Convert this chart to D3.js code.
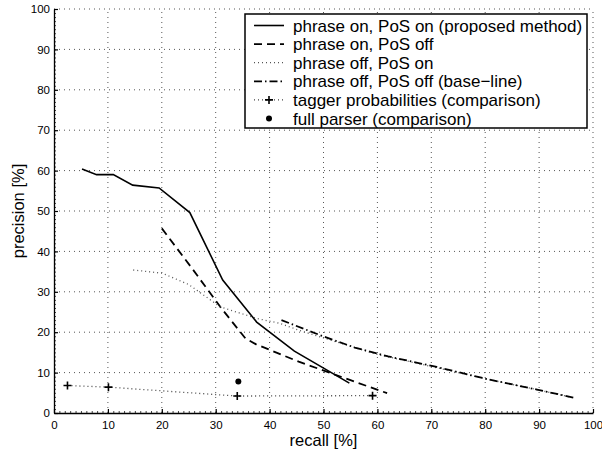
<!DOCTYPE html>
<html><head><meta charset="utf-8">
<script src="https://cdn.jsdelivr.net/npm/d3@7"></script>
<style>body{margin:0;background:#fff}svg{display:block}text{font-family:"Liberation Sans",Arial,sans-serif}</style>
</head><body>
<svg id="c" width="602" height="452"></svg>
<script>
// ---- data ----
const onOnRecall = [5.2, 7.9, 11.0, 14.6, 19.5, 25.2, 31.3, 37.6, 44.6, 54.8];
const onOnPrec   = [60.4, 59.0, 59.0, 56.4, 55.7, 49.6, 32.9, 22.5, 15.3, 7.4];
const onOffRecall = [20.0, 25.5, 31.0, 35.5, 37.5, 45.4, 61.8];
const onOffPrec   = [45.7, 36.0, 26.0, 18.5, 17.0, 12.7, 4.9];
const offOnRecall = [14.7, 20.1, 25.0, 30.8, 37.6, 41.9, 45.4, 52.4, 60.0, 70.4, 80.3, 89.6, 95.5];
const offOnPrec   = [35.4, 34.6, 31.8, 26.3, 23.4, 22.2, 20.5, 17.6, 14.5, 11.4, 8.4, 5.8, 4.0];
const offOffRecall = [42.2, 49.3, 55.8, 62.0, 71.0, 80.3, 89.6, 96.4];
const offOffPrec   = [23.0, 19.3, 16.2, 14.0, 11.4, 8.4, 5.8, 3.8];
const taggerRecall = [2.5, 10.1, 34.0, 59.1];
const taggerPrec   = [6.8, 6.4, 4.2, 4.3];
const parserRecall = [34.2];
const parserPrec   = [7.8];
const xTicks = [0,10,20,30,40,50,60,70,80,90,100];
const yTicks = [0,10,20,30,40,50,60,70,80,90,100];
const legendLabels = [
  "phrase on, PoS on (proposed method)",
  "phrase on, PoS off",
  "phrase off, PoS on",
  "phrase off, PoS off (base\u2212line)",
  "tagger probabilities (comparison)",
  "full parser (comparison)"
];

// ---- chart ----
const svg = d3.select("#c");
const x = d3.scaleLinear().domain([0,100]).range([54,593]);
const y = d3.scaleLinear().domain([0,100]).range([413,9]);

// grid
const g = svg.append("g");
g.selectAll("line.gx").data(xTicks.filter(d=>d>0)).join("line")
  .attr("x1",d=>x(d)).attr("x2",d=>x(d)).attr("y1",y(0)).attr("y2",y(100))
  .attr("stroke","#555").attr("stroke-width",1).attr("stroke-dasharray","1,4");
g.selectAll("line.gy").data(yTicks.filter(d=>d>0)).join("line")
  .attr("x1",x(0)).attr("x2",x(100)).attr("y1",d=>y(d)).attr("y2",d=>y(d))
  .attr("stroke","#555").attr("stroke-width",1).attr("stroke-dasharray","1,4");

// minor ticks
const minor = d3.range(0,101,1);
svg.append("g").attr("transform",`translate(0,${y(0)})`)
  .call(d3.axisBottom(x).tickValues(minor).tickSizeInner(-2).tickSizeOuter(0).tickFormat(""))
  .call(a=>a.select(".domain").remove()).selectAll("line").attr("stroke","#444");
svg.append("g").attr("transform",`translate(${x(0)},0)`)
  .call(d3.axisLeft(y).tickValues(minor).tickSizeInner(-2).tickSizeOuter(0).tickFormat(""))
  .call(a=>a.select(".domain").remove()).selectAll("line").attr("stroke","#444");

// major axes
const xa = svg.append("g").attr("transform",`translate(0,${y(0)})`)
  .call(d3.axisBottom(x).tickValues(xTicks).tickSizeInner(-4).tickSizeOuter(0).tickPadding(8));
const ya = svg.append("g").attr("transform",`translate(${x(0)},0)`)
  .call(d3.axisLeft(y).tickValues(yTicks).tickSizeInner(-4).tickSizeOuter(0).tickPadding(4));
[xa,ya].forEach(a=>{
  a.select(".domain").attr("stroke","#000").attr("stroke-width",1.3);
  a.selectAll(".tick line").attr("stroke","#000").attr("stroke-width",1.2);
  a.selectAll(".tick text").attr("fill","#000").style("font-size","11.5px").style("font-family","'Liberation Sans',Arial,sans-serif");
});

// axis labels
svg.append("text").attr("x",(x(0)+x(100))/2).attr("y",446).attr("text-anchor","middle")
  .style("font-size","16.5px").text("recall [%]");
svg.append("text").attr("transform",`translate(24,${(y(0)+y(100))/2}) rotate(-90)`)
  .attr("text-anchor","middle").style("font-size","16.5px").text("precision [%]");

// series
const line = d3.line().x(d=>x(d[0])).y(d=>y(d[1]));
const zip = (a,b)=>a.map((v,i)=>[v,b[i]]);
const styles = [
  {data:zip(onOnRecall,onOnPrec), dash:null, w:1.6, c:"#000"},
  {data:zip(onOffRecall,onOffPrec), dash:"8,5", w:1.8, c:"#000"},
  {data:zip(offOnRecall,offOnPrec), dash:"1,3", w:1.3, c:"#555"},
  {data:zip(offOffRecall,offOffPrec), dash:"8,3,1.5,3", w:1.8, c:"#000"},
  {data:zip(taggerRecall,taggerPrec), dash:"1,3", w:1.3, c:"#444"}
];
styles.forEach(s=>{
  svg.append("path").datum(s.data).attr("d",line).attr("fill","none")
    .attr("stroke",s.c).attr("stroke-width",s.w).attr("stroke-dasharray",s.dash);
});
// plus markers
svg.selectAll("path.plus").data(zip(taggerRecall,taggerPrec)).join("path")
  .attr("transform",d=>`translate(${x(d[0])},${y(d[1])})`)
  .attr("d","M-4,0H4M0,-4V4").attr("stroke","#000").attr("stroke-width",1.6);
svg.selectAll("circle.fp").data(zip(parserRecall,parserPrec)).join("circle")
  .attr("cx",d=>x(d[0])).attr("cy",d=>y(d[1])).attr("r",3).attr("fill","#000");

// legend
const L = svg.append("g");
L.append("rect").attr("x",245).attr("y",14).attr("width",342).attr("height",114)
  .attr("fill","#fff").attr("stroke","#000").attr("stroke-width",1.5);
const rowY = i => 25.5 + i*18.6;
legendLabels.forEach((lab,i)=>{
  const yy = rowY(i);
  if (i<5) {
    const s = styles[i];
    L.append("line").attr("x1",254).attr("x2",284).attr("y1",yy).attr("y2",yy)
      .attr("stroke",s.c).attr("stroke-width",s.w).attr("stroke-dasharray",s.dash);
  }
  if (i===4) L.append("path").attr("transform",`translate(269,${yy})`).attr("d","M-4,0H4M0,-4V4")
      .attr("stroke","#000").attr("stroke-width",1.6);
  if (i===5) L.append("circle").attr("cx",269).attr("cy",yy).attr("r",3).attr("fill","#000");
  L.append("text").attr("x",293).attr("y",yy).attr("dy","0.36em").style("font-size","17px").text(lab);
});
</script>
</body></html>
